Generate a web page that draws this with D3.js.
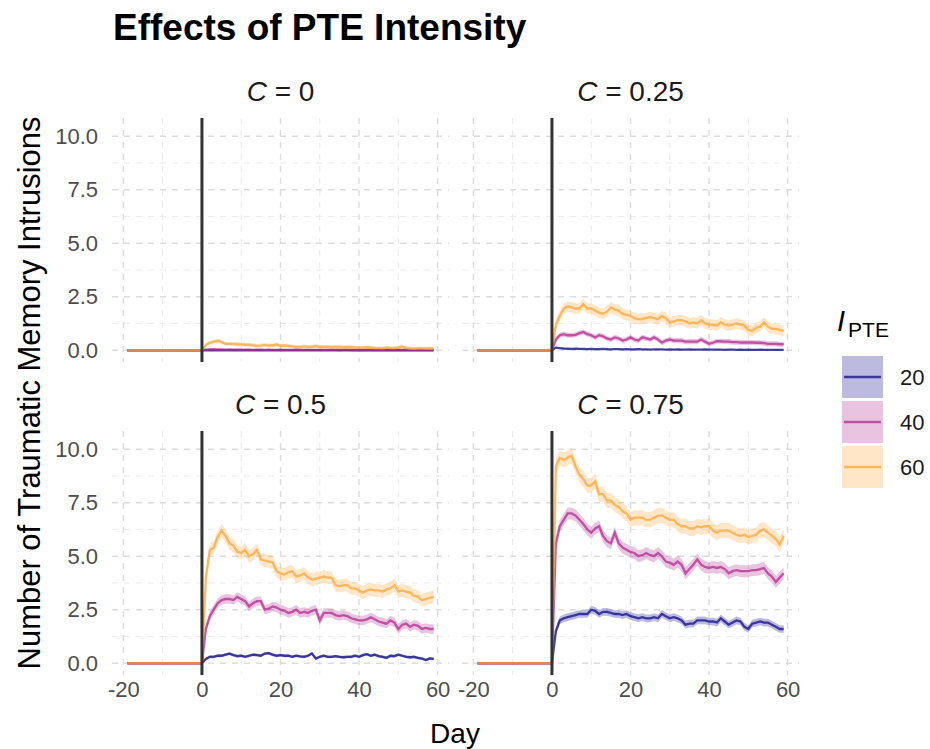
<!DOCTYPE html>
<html>
<head>
<meta charset="utf-8">
<script src="https://cdn.jsdelivr.net/npm/d3@7"></script>
<style>
body { margin: 0; background: #fff; }
text { font-family: "Liberation Sans", Arial, sans-serif; }
</style>
</head>
<body>
<svg id="chart" width="930" height="749"></svg>
<script>
// facets (C) and colour groups (I_PTE)
const panelLabels = ["0", "0.25", "0.5", "0.75"];
const intensities = ["20", "40", "60"];
const xTicks = [-20, 0, 20, 40, 60];
const yTicks = [0, 2.5, 5, 7.5, 10];
const preDays = d3.range(-19, 1);   // before the PTE: no intrusions
const postDays = d3.range(1, 60);

// mean intrusions per day after the PTE, one array per C x I_PTE
const c0_i20 = [0,0,0,0,0,0,0,0,0,0, 0,0,0,0,0,0,0,0,0,0, 0,0,0,0,0,0,0,0,0,0,
        0,0,0,0,0,0,0,0,0,0, 0,0,0,0,0,0,0,0,0,0, 0,0,0,0,0,0,0,0,0];
const c0_i40 = [0.03,0.04,0.05,0.04,0.04,0.03,0.04,0.03,0.03,0.03, 0.03,0.03,0.02,0.03,0.03,0.02,0.03,0.02,0.02,0.03,
        0.02,0.02,0.02,0.03,0.02,0.02,0.02,0.02,0.02,0.02, 0.02,0.02,0.02,0.02,0.01,0.02,0.02,0.01,0.02,0.01,
        0.01,0.02,0.01,0.01,0.01,0.02,0.01,0.01,0.01,0.01, 0.01,0.01,0.01,0.01,0.01,0.01,0.01,0.01,0.01];
const c0_i60 = [0.25,0.35,0.4,0.45,0.38,0.3,0.3,0.3,0.28,0.27, 0.25,0.26,0.23,0.2,0.22,0.25,0.22,0.22,0.27,0.2,
        0.22,0.2,0.18,0.16,0.15,0.18,0.16,0.16,0.2,0.15, 0.16,0.16,0.14,0.16,0.15,0.14,0.15,0.14,0.13,0.12,
        0.12,0.14,0.12,0.1,0.1,0.09,0.12,0.1,0.1,0.12, 0.18,0.1,0.08,0.07,0.08,0.09,0.07,0.08,0.07];

const c25_i20 = [0.12,0.1,0.08,0.07,0.06,0.07,0.06,0.06,0.05,0.06, 0.05,0.05,0.06,0.05,0.04,0.05,0.05,0.04,0.05,0.04,
        0.04,0.05,0.04,0.04,0.03,0.04,0.04,0.04,0.03,0.04, 0.03,0.04,0.03,0.03,0.04,0.03,0.03,0.03,0.04,0.03,
        0.03,0.03,0.03,0.02,0.03,0.03,0.02,0.03,0.02,0.03, 0.02,0.02,0.03,0.02,0.02,0.02,0.02,0.02,0.02];
const c25_i40 = [0.5,0.7,0.75,0.7,0.7,0.72,0.8,0.85,0.75,0.7, 0.6,0.7,0.65,0.55,0.5,0.6,0.55,0.45,0.5,0.6,
        0.5,0.45,0.6,0.55,0.5,0.6,0.5,0.35,0.45,0.5, 0.45,0.45,0.45,0.4,0.4,0.4,0.4,0.5,0.4,0.3,
        0.35,0.42,0.42,0.4,0.4,0.38,0.38,0.36,0.36,0.36, 0.36,0.35,0.35,0.33,0.3,0.3,0.3,0.28,0.28];
const c25_i60 = [1.2,1.6,1.95,2.05,2.0,1.95,1.95,2.15,1.95,1.95, 1.85,1.75,1.7,1.8,2.0,1.9,1.85,1.7,1.65,1.6,
        1.5,1.45,1.45,1.5,1.55,1.5,1.45,1.6,1.5,1.3, 1.35,1.4,1.4,1.35,1.25,1.3,1.25,1.4,1.25,1.2,
        1.2,1.15,1.3,1.2,1.15,1.2,1.25,1.2,1.15,0.95, 0.9,1.05,1.1,1.3,1.1,1.0,1.0,0.95,0.9];

const c50_i20 = [0.2,0.3,0.3,0.35,0.35,0.4,0.45,0.38,0.33,0.35, 0.3,0.35,0.4,0.38,0.35,0.45,0.47,0.4,0.35,0.38,
        0.35,0.35,0.3,0.35,0.32,0.3,0.35,0.45,0.22,0.3, 0.35,0.3,0.3,0.33,0.3,0.28,0.3,0.3,0.35,0.3,
        0.38,0.42,0.35,0.4,0.33,0.3,0.25,0.35,0.33,0.4, 0.35,0.3,0.28,0.3,0.25,0.22,0.15,0.22,0.2];
const c50_i40 = [1.6,2.2,2.5,2.8,2.95,3.0,3.0,2.95,3.1,3.0, 2.9,2.65,2.8,2.9,2.9,2.5,2.55,2.65,2.6,2.5,
        2.45,2.35,2.4,2.5,2.35,2.4,2.35,2.45,2.5,2.0, 2.35,2.35,2.35,2.25,2.2,2.25,2.2,2.1,2.05,2.0,
        2.0,2.05,2.15,2.05,1.95,1.9,1.85,2.0,1.9,1.6, 1.8,1.85,1.7,1.8,1.75,1.6,1.65,1.6,1.6];
const c50_i60 = [4.0,5.3,5.4,5.9,6.2,5.95,5.6,5.5,5.2,5.15, 5.3,5.0,5.1,5.3,4.85,4.8,4.75,4.7,4.3,4.2,
        4.15,4.25,4.3,4.05,4.1,4.2,4.0,3.9,3.95,4.0, 4.05,4.0,4.0,3.65,3.6,3.65,3.65,3.5,3.5,3.4,
        3.3,3.4,3.45,3.4,3.4,3.35,3.45,3.5,3.65,3.35, 3.4,3.35,3.3,3.15,3.1,2.95,3.0,3.05,3.1];

const c75_i20 = [1.5,2.0,2.1,2.15,2.2,2.25,2.3,2.3,2.3,2.5, 2.45,2.3,2.4,2.4,2.35,2.3,2.3,2.25,2.3,2.2,
        2.15,2.1,2.15,2.1,2.1,2.15,2.1,2.3,2.2,2.1, 2.15,2.1,2.0,1.8,1.85,1.85,2.0,2.0,2.0,1.95,
        1.95,1.9,2.1,1.95,1.8,1.9,2.0,1.95,1.7,1.6, 1.85,1.9,1.95,1.9,1.9,1.8,1.7,1.6,1.6];
const c75_i40 = [5.6,6.4,6.7,7.0,7.0,6.9,6.7,6.5,6.25,6.1, 6.3,6.4,5.95,5.7,5.6,6.1,5.6,5.4,5.3,5.2,
        5.15,5.0,5.05,5.15,5.05,5.0,5.15,5.0,4.75,4.7, 4.6,4.75,4.6,4.2,4.4,4.6,4.85,4.6,4.5,4.45,
        4.5,4.45,4.5,4.4,4.2,4.3,4.35,4.3,4.3,4.3, 4.35,4.35,4.4,4.45,4.2,4.05,3.8,4.0,4.2];
const c75_i60 = [9.2,9.6,9.5,9.6,9.7,9.2,8.8,8.6,8.3,8.3, 8.5,7.9,7.9,7.6,7.6,7.4,7.3,7.1,7.0,6.7,
        6.8,6.8,6.8,6.7,6.7,6.8,6.9,6.9,6.8,6.7, 6.7,6.5,6.4,6.4,6.3,6.3,6.4,6.35,6.4,6.4,
        6.2,6.1,6.2,6.2,6.2,6.1,6.0,5.95,6.0,5.9, 5.95,6.0,6.2,6.25,6.1,5.95,5.8,5.55,5.95];

// half-width of the ribbon, per panel, for I_PTE 20 / 40 / 60
const se_c0 = [0, 0.02, 0.09];
const se_c25 = [0.02, 0.12, 0.25];
const se_c50 = [0.07, 0.22, 0.3];
const se_c75 = [0.18, 0.28, 0.35];

const panelSeries = [[c0_i20, c0_i40, c0_i60], [c25_i20, c25_i40, c25_i60],
        [c50_i20, c50_i40, c50_i60], [c75_i20, c75_i40, c75_i60]];
const panelSe = [se_c0, se_c25, se_c50, se_c75];

// ---- layout
const svg = d3.select("#chart");
const pw = 337, ph = 244;
const panelX = [112, 462];
const panelY = [118, 431];

const colour = d3.scaleOrdinal()
        .domain(intensities)
        .range([d3.interpolatePlasma(0), d3.interpolatePlasma(0.4), d3.interpolatePlasma(0.8)]);

const x = d3.scaleLinear().domain([-22.9, 62.9]).range([0, pw]);
const y = d3.scaleLinear().domain([-0.55, 10.85]).range([ph, 0]);

function buildRows(values, se) {
        const rows = preDays.map(d => ({day: d, v: 0, lo: 0, hi: 0}));
        postDays.forEach((d, i) => rows.push({day: d, v: values[i], lo: values[i] - se, hi: values[i] + se}));
        return rows;
}

const line = d3.line().x(d => x(d.day)).y(d => y(d.v));
const area = d3.area().x(d => x(d.day)).y0(d => y(d.lo)).y1(d => y(d.hi));

// title
svg.append("text")
        .attr("x", 113)
        .attr("y", 40)
        .attr("font-size", "37px")
        .attr("font-weight", "bold")
        .attr("fill", "#000")
        .text("Effects of PTE Intensity");

panelLabels.forEach((lab, p) => {
        const col = p % 2, row = Math.floor(p / 2);
        const g = svg.append("g")
                .attr("transform", "translate(" + panelX[col] + "," + panelY[row] + ")");

        // strip
        const strip = svg.append("text")
                .attr("x", panelX[col] + pw / 2)
                .attr("y", panelY[row] - 17)
                .attr("text-anchor", "middle")
                .attr("font-size", "28px")
                .attr("fill", "#1a1a1a");
        strip.append("tspan").attr("font-style", "italic").text("C");
        strip.append("tspan").text(" = " + lab);

        // grid: minor then major
        const minorX = [-10, 10, 30, 50], minorY = [1.25, 3.75, 6.25, 8.75];
        g.selectAll(".minx").data(minorX).enter().append("line")
                .attr("x1", d => x(d)).attr("x2", d => x(d))
                .attr("y1", 0).attr("y2", ph)
                .attr("stroke", "#e6e6e6").attr("stroke-width", 0.9)
                .attr("stroke-dasharray", "6,6");
        g.selectAll(".miny").data(minorY).enter().append("line")
                .attr("x1", 0).attr("x2", pw)
                .attr("y1", d => y(d)).attr("y2", d => y(d))
                .attr("stroke", "#e6e6e6").attr("stroke-width", 0.9)
                .attr("stroke-dasharray", "6,6");
        g.selectAll(".majx").data(xTicks).enter().append("line")
                .attr("x1", d => x(d)).attr("x2", d => x(d))
                .attr("y1", 0).attr("y2", ph)
                .attr("stroke", "#dcdcdc").attr("stroke-width", 1.4)
                .attr("stroke-dasharray", "6,6");
        g.selectAll(".majy").data(yTicks).enter().append("line")
                .attr("x1", 0).attr("x2", pw)
                .attr("y1", d => y(d)).attr("y2", d => y(d))
                .attr("stroke", "#dcdcdc").attr("stroke-width", 1.4)
                .attr("stroke-dasharray", "6,6");

        const rows = panelSeries[p].map((vals, k) => buildRows(vals, panelSe[p][k]));

        rows.forEach((r, k) => {
                g.append("path")
                        .attr("d", area(r))
                        .attr("fill", colour(intensities[k]))
                        .attr("fill-opacity", 0.28);
        });
        rows.forEach((r, k) => {
                g.append("path")
                        .attr("d", line(r))
                        .attr("fill", "none")
                        .attr("stroke", colour(intensities[k]))
                        .attr("stroke-opacity", 0.75)
                        .attr("stroke-width", 2.3);
        });

        // event line at day 0
        g.append("line")
                .attr("x1", x(0)).attr("x2", x(0))
                .attr("y1", 0).attr("y2", ph)
                .attr("stroke", "#333333")
                .attr("stroke-width", 3);

        // axes
        if (col === 0) {
                const ay = g.append("g").call(d3.axisLeft(y).tickValues(yTicks)
                        .tickFormat(d3.format(".1f")).tickSize(0).tickPadding(14));
                ay.select(".domain").remove();
                ay.selectAll("text").attr("font-size", "22px").attr("fill", "#4d4d4d")
                        .style("font-family", "Liberation Sans, Arial, sans-serif");
        }
        if (row === 1) {
                const ax = g.append("g").attr("transform", "translate(0," + ph + ")")
                        .call(d3.axisBottom(x).tickValues(xTicks)
                        .tickFormat(d => String(d)).tickSize(0).tickPadding(6));
                ax.select(".domain").remove();
                ax.selectAll("text").attr("font-size", "22px").attr("fill", "#4d4d4d")
                        .style("font-family", "Liberation Sans, Arial, sans-serif");
        }
});

// axis titles
svg.append("text")
        .attr("transform", "translate(40," + 393 + ") rotate(-90)")
        .attr("text-anchor", "middle")
        .attr("font-size", "31px")
        .attr("fill", "#000")
        .text("Number of Traumatic Memory Intrusions");

svg.append("text")
        .attr("x", 455)
        .attr("y", 743)
        .attr("text-anchor", "middle")
        .attr("font-size", "28px")
        .attr("fill", "#000")
        .text("Day");

// legend
const legend = svg.append("g").attr("transform", "translate(842,356)");
const lt = svg.append("text")
        .attr("x", 837)
        .attr("y", 331)
        .attr("fill", "#000");
lt.append("tspan").attr("font-style", "italic").attr("font-size", "29px").text("I");
lt.append("tspan").attr("font-size", "21px").attr("dy", 6).attr("dx", 3).text("PTE");

intensities.forEach((lab, k) => {
        const ky = k * 45;
        legend.append("rect")
                .attr("x", 0).attr("y", ky)
                .attr("width", 41).attr("height", 42)
                .attr("fill", "#fff");
        legend.append("rect")
                .attr("x", 0).attr("y", ky)
                .attr("width", 41).attr("height", 42)
                .attr("fill", colour(lab))
                .attr("fill-opacity", 0.28);
        legend.append("line")
                .attr("x1", 2).attr("x2", 39)
                .attr("y1", ky + 21).attr("y2", ky + 21)
                .attr("stroke", colour(lab))
                .attr("stroke-opacity", 0.75)
                .attr("stroke-width", 2.5);
        legend.append("text")
                .attr("x", 58).attr("y", ky + 21)
                .attr("dy", "0.35em")
                .attr("font-size", "22px")
                .attr("fill", "#1a1a1a")
                .text(lab);
});
</script>
</body>
</html>
